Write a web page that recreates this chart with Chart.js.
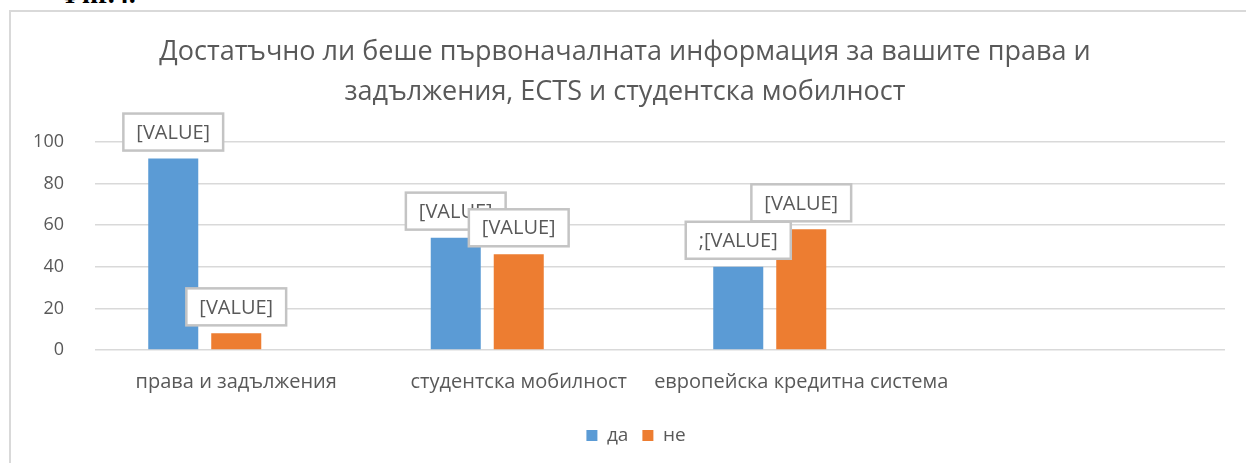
<!DOCTYPE html>
<html>
<head>
<meta charset="utf-8">
<script src="https://cdn.jsdelivr.net/npm/chart.js@4.4.0/dist/chart.umd.min.js"></script>
<style>
  html, body { margin: 0; padding: 0; background: #fff; }
  body { width: 1246px; height: 463px; position: relative; overflow: hidden; }
  #frame { position: absolute; left: 9px; top: 10px; width: 1300px; height: 500px;
           border-left: 2px solid #d9d9d9; border-top: 2px solid #d9d9d9; }
  #fig { position: absolute; left: 58px; top: -22px; font: bold 28px "Liberation Serif", serif; color: #000; }
  #wrap { position: absolute; left: 0; top: 0; width: 1246px; height: 463px; }
</style>
</head>
<body>
<div id="fig">Фиг.4.</div>
<div id="frame"></div>
<div id="wrap"><canvas id="chart"></canvas></div>
<script>
document.addEventListener('DOMContentLoaded', function() {
    // данни
    const categories = ['права и задължения', 'студентска мобилност', 'европейска кредитна система', ''];
    const yesValues = [92, 54, 40, null];
    const noValues = [8, 46, 58, null];
    const yesLabels = ['[VALUE]', '[VALUE]', ';[VALUE]', ''];
    const noLabels = ['[VALUE]', '[VALUE]', '[VALUE]', ''];
    const yTicks = [0, 20, 40, 60, 80, 100];
    const titleLines = ['Достатъчно ли беше първоначалната информация за вашите права и',
                        'задължения, ECTS и студентска мобилност'];

    const FONT = '"Open Sans", sans-serif';
    const TEXT = '#595959';

    // етикети [VALUE] в рамки
    const valueBoxes = {
        id: 'valueBoxes',
        afterDatasetsDraw(chart) {
            const ctx = chart.ctx;
            const allLabels = [yesLabels, noLabels];
            ctx.save();
            ctx.font = '20px ' + FONT;
            ctx.textAlign = 'center';
            ctx.textBaseline = 'middle';
            [0, 1].forEach(function(di) {
                const meta = chart.getDatasetMeta(di);
                meta.data.forEach(function(bar, i) {
                    const txt = allLabels[di][i];
                    if (!txt) return;
                    const w = ctx.measureText(txt).width + 26;
                    const h = 37;
                    const x = bar.x - w / 2;
                    const y = bar.y - 8 - h;
                    ctx.fillStyle = '#fff';
                    ctx.fillRect(x, y, w, h);
                    ctx.strokeStyle = '#c4c4c4';
                    ctx.lineWidth = 2.5;
                    ctx.strokeRect(x, y, w, h);
                    ctx.fillStyle = TEXT;
                    ctx.fillText(txt, bar.x, y + h / 2 + 1);
                });
            });
            ctx.restore();
        }
    };

    // легендата е малко вдясно от центъра
    const shiftLegend = {
        id: 'shiftLegend',
        afterLayout(chart) {
            chart.legend.left += 11;
            chart.legend.right += 11;
        }
    };

    const ctx = document.getElementById('chart').getContext('2d');
    new Chart(ctx, {
        type: 'bar',
        data: {
            labels: categories,
            datasets: [{
                label: 'да',
                data: yesValues,
                backgroundColor: '#5b9bd5'
            }, {
                label: 'не',
                data: noValues,
                backgroundColor: '#ed7d31'
            }, {
                label: '',
                data: [null, null, null, null],
                backgroundColor: '#a5a5a5'
            }]
        },
        options: {
            responsive: true,
            maintainAspectRatio: false,
            animation: false,
            datasets: { bar: { barPercentage: 0.794, categoryPercentage: 0.669 } },
            layout: { padding: { left: 25, right: 21, top: 32, bottom: 8 } },
            plugins: {
                title: {
                    display: true,
                    text: titleLines,
                    color: TEXT,
                    font: { family: FONT, size: 27, weight: 'normal', lineHeight: 1.48 },
                    padding: { top: 0, bottom: 30 }
                },
                legend: {
                    position: 'bottom',
                    labels: {
                        filter: item => item.text !== '',
                        boxWidth: 11,
                        boxHeight: 11,
                        color: TEXT,
                        font: { family: FONT, size: 19 },
                        padding: 14
                    }
                },
                tooltip: { enabled: false }
            },
            scales: {
                x: {
                    grid: { display: false },
                    border: { display: false },
                    ticks: { color: TEXT, font: { family: FONT, size: 20 }, padding: 12, maxRotation: 0, autoSkip: false },
                    afterFit: s => { s.height = 62; }
                },
                y: {
                    min: 0,
                    max: 100,
                    afterBuildTicks: s => { s.ticks = yTicks.map(v => ({ value: v })); },
                    grid: { color: '#d9d9d9', lineWidth: 1.5, drawTicks: false },
                    border: { display: false },
                    ticks: { color: TEXT, font: { family: FONT, size: 18 }, padding: 31 },
                    afterFit: s => { s.width = 70; }
                }
            }
        },
        plugins: [valueBoxes, shiftLegend]
    });
});
</script>
</body>
</html>
